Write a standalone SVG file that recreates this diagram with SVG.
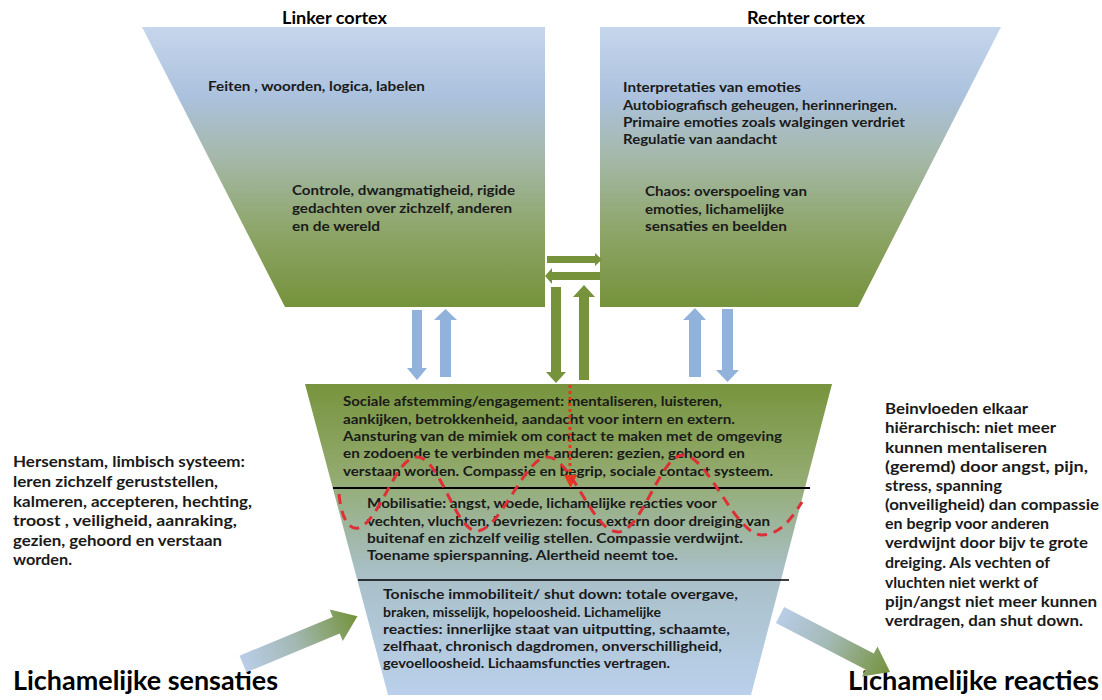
<svg xmlns="http://www.w3.org/2000/svg" width="1102" height="700" viewBox="0 0 1102 700">
<defs>
<linearGradient id="gTop" x1="0" y1="0" x2="0" y2="1">
<stop offset="0" stop-color="#c6d6ec"/>
<stop offset="0.25" stop-color="#abc1dd"/>
<stop offset="0.47" stop-color="#a5b8a8"/>
<stop offset="0.72" stop-color="#8ea66a"/>
<stop offset="1" stop-color="#75923b"/>
</linearGradient>
<linearGradient id="gBot" x1="0" y1="0" x2="0" y2="1">
<stop offset="0" stop-color="#77943d"/>
<stop offset="0.3" stop-color="#93ab70"/>
<stop offset="0.6" stop-color="#a8bfc6"/>
<stop offset="1" stop-color="#bad0ec"/>
</linearGradient>
<linearGradient id="gSide" x1="0" y1="0" x2="1" y2="0">
<stop offset="0" stop-color="#b9cde8"/>
<stop offset="0.45" stop-color="#a3b9b4"/>
<stop offset="1" stop-color="#74923a"/>
</linearGradient>
<style>
text{font-family:Lato,"Liberation Sans",sans-serif;font-weight:700;fill:#1a1a1a}
.t{font-size:14px}
.s{font-size:16px}
.h{font-size:16.5px;fill:#000}
.b{font-size:26px;fill:#000}
.blue{fill:#91b2da}
.green{fill:#76933c}
.red{fill:none;stroke:#df2f36;stroke-width:3;stroke-dasharray:10 7}
</style>
</defs>

<g id="linker-cortex">
<polygon points="142,27 545,27 545,307 285,307" fill="url(#gTop)"/>
<text class="h" x="282" y="24" textLength="105" lengthAdjust="spacingAndGlyphs">Linker cortex</text>
<text class="t" x="208" y="91" textLength="217" lengthAdjust="spacingAndGlyphs">Feiten , woorden, logica, labelen</text>
<text class="t" x="292" y="195" textLength="223" lengthAdjust="spacingAndGlyphs">Controle, dwangmatigheid, rigide</text>
<text class="t" x="292" y="213" textLength="220" lengthAdjust="spacingAndGlyphs">gedachten over zichzelf, anderen</text>
<text class="t" x="292" y="231" textLength="88" lengthAdjust="spacingAndGlyphs">en de wereld</text>
</g>

<g id="rechter-cortex">
<polygon points="600,27 1001,27 858,307 600,307" fill="url(#gTop)"/>
<text class="h" x="747" y="24" textLength="118" lengthAdjust="spacingAndGlyphs">Rechter cortex</text>
<text class="t" x="623" y="92" textLength="178" lengthAdjust="spacingAndGlyphs">Interpretaties van emoties</text>
<text class="t" x="623" y="110" textLength="274" lengthAdjust="spacingAndGlyphs">Autobiografisch geheugen, herinneringen.</text>
<text class="t" x="623" y="127" textLength="282" lengthAdjust="spacingAndGlyphs">Primaire emoties zoals walgingen verdriet</text>
<text class="t" x="623" y="144" textLength="154" lengthAdjust="spacingAndGlyphs">Regulatie van aandacht</text>
<text class="t" x="645" y="196" textLength="162" lengthAdjust="spacingAndGlyphs">Chaos: overspoeling van</text>
<text class="t" x="645" y="214" textLength="139" lengthAdjust="spacingAndGlyphs">emoties, lichamelijke</text>
<text class="t" x="645" y="231" textLength="142" lengthAdjust="spacingAndGlyphs">sensaties en beelden</text>
</g>

<g id="hersenstam">
<polygon points="305,384 832,384 751,695 388,695" fill="url(#gBot)"/>
<line x1="333" y1="488" x2="810" y2="488" stroke="#000" stroke-width="2"/>
<line x1="358" y1="580" x2="789" y2="580" stroke="#000" stroke-width="1.5"/>
<text class="t" x="343" y="406" textLength="379" lengthAdjust="spacingAndGlyphs">Sociale afstemming/engagement: mentaliseren, luisteren,</text>
<text class="t" x="343" y="424" textLength="392" lengthAdjust="spacingAndGlyphs">aankijken, betrokkenheid, aandacht voor intern en extern.</text>
<text class="t" x="343" y="441" textLength="439" lengthAdjust="spacingAndGlyphs">Aansturing van de mimiek om contact te maken met de omgeving</text>
<text class="t" x="343" y="458" textLength="402" lengthAdjust="spacingAndGlyphs">en zodoende te verbinden met anderen: gezien, gehoord en</text>
<text class="t" x="343" y="476" textLength="430" lengthAdjust="spacingAndGlyphs">verstaan worden. Compassie en begrip, sociale contact systeem.</text>
<text class="t" x="367" y="508" textLength="350" lengthAdjust="spacingAndGlyphs">Mobilisatie: angst, woede, lichamelijke reacties voor</text>
<text class="t" x="367" y="526" textLength="403" lengthAdjust="spacingAndGlyphs">vechten, vluchten, bevriezen: focus extern door dreiging van</text>
<text class="t" x="367" y="543" textLength="376" lengthAdjust="spacingAndGlyphs">buitenaf en zichzelf veilig stellen. Compassie verdwijnt.</text>
<text class="t" x="367" y="560" textLength="311" lengthAdjust="spacingAndGlyphs">Toename spierspanning. Alertheid neemt toe.</text>
<text class="t" x="383" y="599" textLength="355" lengthAdjust="spacingAndGlyphs">Tonische immobiliteit/ shut down: totale overgave,</text>
<text class="t" x="383" y="617" textLength="278" lengthAdjust="spacingAndGlyphs">braken, misselijk, hopeloosheid. Lichamelijke</text>
<text class="t" x="383" y="634" textLength="347" lengthAdjust="spacingAndGlyphs">reacties: innerlijke staat van uitputting, schaamte,</text>
<text class="t" x="383" y="651" textLength="339" lengthAdjust="spacingAndGlyphs">zelfhaat, chronisch dagdromen, onverschilligheid,</text>
<text class="t" x="383" y="668" textLength="287" lengthAdjust="spacingAndGlyphs">gevoelloosheid. Lichaamsfuncties vertragen.</text>
</g>

<g id="links-tekst">
<text class="s" x="13" y="467" textLength="232" lengthAdjust="spacingAndGlyphs">Hersenstam, limbisch systeem:</text>
<text class="s" x="13" y="487" textLength="205" lengthAdjust="spacingAndGlyphs">leren zichzelf geruststellen,</text>
<text class="s" x="13" y="507" textLength="239" lengthAdjust="spacingAndGlyphs">kalmeren, accepteren, hechting,</text>
<text class="s" x="13" y="526" textLength="224" lengthAdjust="spacingAndGlyphs">troost , veiligheid, aanraking,</text>
<text class="s" x="13" y="546" textLength="209" lengthAdjust="spacingAndGlyphs">gezien, gehoord en verstaan</text>
<text class="s" x="13" y="565" textLength="59" lengthAdjust="spacingAndGlyphs">worden.</text>
</g>

<g id="rechts-tekst">
<text class="s" x="885" y="414" textLength="143" lengthAdjust="spacingAndGlyphs">Beinvloeden elkaar</text>
<text class="s" x="885" y="433" textLength="171" lengthAdjust="spacingAndGlyphs">hiërarchisch: niet meer</text>
<text class="s" x="885" y="453" textLength="162" lengthAdjust="spacingAndGlyphs">kunnen mentaliseren</text>
<text class="s" x="885" y="472" textLength="203" lengthAdjust="spacingAndGlyphs">(geremd) door angst, pijn,</text>
<text class="s" x="885" y="491" textLength="117" lengthAdjust="spacingAndGlyphs">stress, spanning</text>
<text class="s" x="885" y="510" textLength="214" lengthAdjust="spacingAndGlyphs">(onveiligheid) dan compassie</text>
<text class="s" x="885" y="529" textLength="164" lengthAdjust="spacingAndGlyphs">en begrip voor anderen</text>
<text class="s" x="885" y="548" textLength="203" lengthAdjust="spacingAndGlyphs">verdwijnt door bijv te grote</text>
<text class="s" x="885" y="568" textLength="165" lengthAdjust="spacingAndGlyphs">dreiging. Als vechten of</text>
<text class="s" x="885" y="588" textLength="153" lengthAdjust="spacingAndGlyphs">vluchten niet werkt of</text>
<text class="s" x="885" y="607" textLength="212" lengthAdjust="spacingAndGlyphs">pijn/angst niet meer kunnen</text>
<text class="s" x="885" y="626" textLength="198" lengthAdjust="spacingAndGlyphs">verdragen, dan shut down.</text>
</g>

<g id="lichamelijke-sensaties">
<text class="b" x="13" y="690" textLength="265" lengthAdjust="spacingAndGlyphs">Lichamelijke sensaties</text>
</g>

<g id="lichamelijke-reacties">
<text class="b" x="848" y="690" textLength="251" lengthAdjust="spacingAndGlyphs">Lichamelijke reacties</text>
</g>

<g id="connectors">
<polygon class="green" points="547,256 595,256 595,253 602,259.5 595,266 595,263 547,263"/>
<polygon class="green" points="600,272 552,272 552,268 545,276 552,284 552,280 600,280"/>
<polygon class="green" points="551,287 561,287 561,372 566,372 556,383 546,372 551,372"/>
<polygon class="green" points="579,380 589,380 589,297 595,297 584,285 573,297 579,297"/>
<polygon class="blue" points="412,310 422,310 422,368 427,368 417,380 407,368 412,368"/>
<polygon class="blue" points="440,377 451,377 451,320 457,320 445.5,309 434,320 440,320"/>
<polygon class="blue" points="689,377 701,377 701,320 706,320 695,308 683,320 689,320"/>
<polygon class="blue" points="722,309 733,309 733,370 739,370 727.5,382 716,370 722,370"/>
<polygon points="0,-9 101,-9 101,-17 124,0 101,17 101,9 0,9" fill="url(#gSide)" transform="translate(243,664) rotate(-22.6)"/>
<polygon points="0,-9 101,-9 101,-17 124,0 101,17 101,9 0,9" fill="url(#gSide)" transform="translate(780,615) rotate(27.4)"/>
<line x1="570" y1="385" x2="570" y2="476" stroke="#e8381c" stroke-width="3" stroke-dasharray="3 3"/>
<polygon points="564,475 577,475 570.5,488" fill="#e8381c"/>
<path class="red" d="M339,494 C341,516 348,530 358,528 C380,522 395,457 417,457 C440,457 455,531 477,531 C500,531 525,457 547,457 C572,457 592,532 618,532 C642,532 660,455 683,455 C708,455 735,535 762,535 C780,535 792,518 802,502"/>
</g>
</svg>
